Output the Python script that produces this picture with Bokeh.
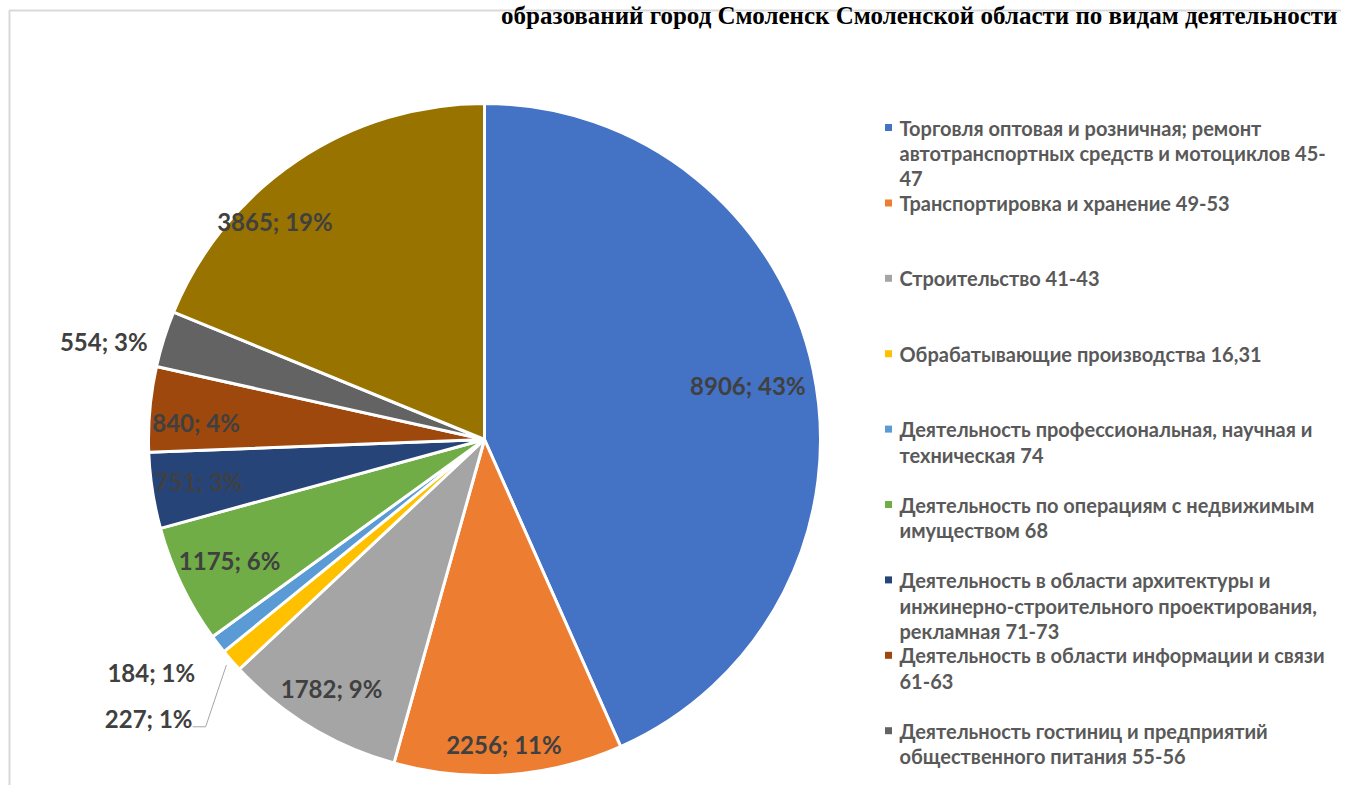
import math
from bokeh.plotting import figure
from bokeh.models import Range1d
from bokeh.core.properties import value
from bokeh.embed import file_html
from bokeh.resources import INLINE

# ---- data ----
values = [8906, 2256, 1782, 227, 184, 1175, 751, 840, 554, 3865]
percents = ["43%", "11%", "9%", "1%", "1%", "6%", "3%", "4%", "3%", "19%"]
colors = ["#4472C4", "#ED7D31", "#A5A5A5", "#FFC000", "#5B9BD5",
          "#70AD47", "#264478", "#9E480E", "#636363", "#997300"]
legend_labels = [
    ["Торговля оптовая и розничная; ремонт",
     "автотранспортных средств и мотоциклов 45-", "47"],
    ["Транспортировка и хранение 49-53"],
    ["Строительство 41-43"],
    ["Обрабатывающие производства 16,31"],
    ["Деятельность профессиональная, научная и", "техническая 74"],
    ["Деятельность по операциям с недвижимым", "имуществом 68"],
    ["Деятельность в области архитектуры и",
     "инжинерно-строительного проектирования,", "рекламная 71-73"],
    ["Деятельность в области информации и связи", "61-63"],
    ["Деятельность гостиниц и предприятий", "общественного питания 55-56"],
]
title_text = "образований город Смоленск Смоленской области по видам деятельности"

# ---- layout (picture px -> data) ----
W, H = 1341, 785
def X(px):
    return px
def Y(py):
    return H - py

CX, CY, R = X(484), Y(439), 336
label_r = [0.80, 0.91, 0.87, 1.30, 1.21, 0.84, 0.86, 0.86, 1.17, 0.90]
label_dang = [0.4, 0.5, 0.3, 1.4, 2.6, 0.2, 0.3, -1.8, -3.0, -10.0]

p = figure(width=W, height=H, x_range=Range1d(0, W), y_range=Range1d(0, H),
           output_backend="svg", toolbar_location=None, min_border=0,
           background_fill_color="white", border_fill_color="white")
p.axis.visible = False
p.xgrid.visible = False
p.ygrid.visible = False
p.outline_line_color = None

# chart-area border (left and top visible)
p.line(x=[X(9), X(9), X(W)], y=[0, Y(10), Y(10)], line_color="#D9D9D9",
       line_width=2)

total = float(sum(values))
cum = 0.0
starts, ends, mids = [], [], []
for v in values:
    c0 = cum / total
    cum += v
    c1 = cum / total
    starts.append(math.pi / 2 - 2 * math.pi * c0)
    ends.append(math.pi / 2 - 2 * math.pi * c1)
    mids.append(360.0 * (c0 + c1) / 2)

p.wedge(x=[CX] * len(values), y=[CY] * len(values), radius=R,
        start_angle=starts, end_angle=ends, direction="clock",
        fill_color=colors, line_color="white", line_width=3)

# data labels
lx, ly, lt = [], [], []
for i, v in enumerate(values):
    th = math.radians(mids[i] + label_dang[i])
    lx.append(CX + label_r[i] * R * math.sin(th))
    ly.append(CY + label_r[i] * R * math.cos(th))
    lt.append(f"{v}; {percents[i]}")
p.text(x=lx, y=ly, text=lt, text_align="center", text_baseline="middle",
       text_font=value("Lato"), text_font_style="bold", text_font_size="24px",
       text_color="#404040")

# leader line for the small yellow slice
th = math.radians(mids[3])
sx = CX + 1.02 * R * math.sin(th)
sy = CY + 1.02 * R * math.cos(th)
p.line(x=[sx, lx[3] + 57, lx[3] + 44], y=[sy, ly[3] - 8, ly[3] - 8],
       line_color="#A6A6A6", line_width=1)

# legend
mx, my, tx, ty, tt = [], [], [], [], []
for i, lines in enumerate(legend_labels):
    y0 = Y(127 + 75.4 * i)
    mx.append(X(888))
    my.append(y0)
    for j, s in enumerate(lines):
        tx.append(X(899))
        ty.append(y0 - 25.7 * j)
        tt.append(s)
p.scatter(x=mx, y=my, marker="square", size=7, fill_color=colors[:9],
          line_color=None)
p.text(x=tx, y=ty, text=tt, text_align="left", text_baseline="middle",
       text_font=value("Lato"), text_font_style="bold", text_font_size="20px",
       text_color="#595959")

# title (cut off in the reference; kept fully visible here at the top)
p.text(x=[X(1337)], y=[Y(1)], text=[title_text], text_align="right",
       text_baseline="top", text_font=value("Liberation Serif"),
       text_font_style="bold", text_font_size="25px", text_color="#000000")

open("out.html", "w").write(file_html(p, INLINE))
